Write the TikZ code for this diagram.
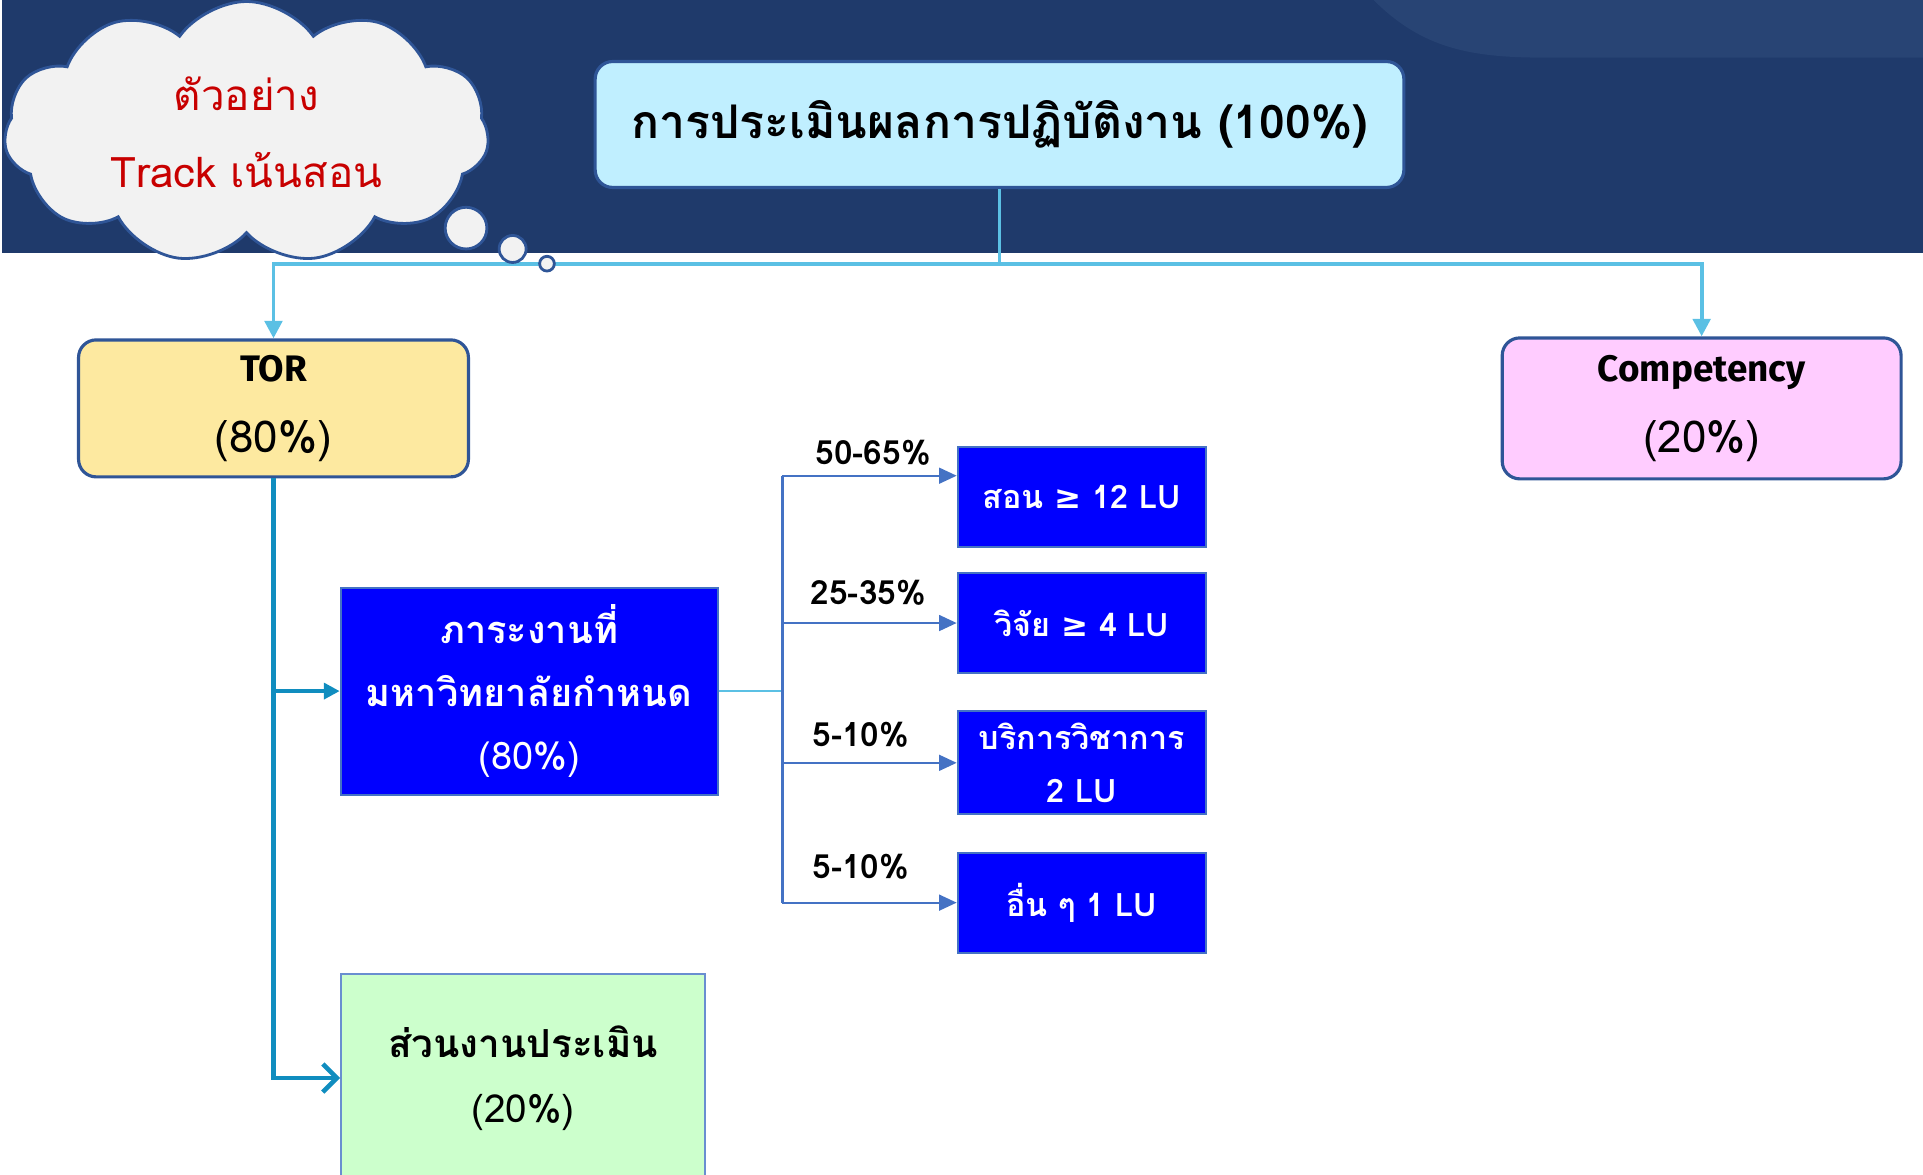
\documentclass[tikz,border=0pt]{standalone}
\usepackage{fontspec}
\setmainfont[Script=Thai]{Loma}
\newfontfamily\symfont{DejaVu Sans}
\newfontfamily\headfont{Fira Sans}
\usepackage{tikz}
\usetikzlibrary{arrows.meta}
\usetikzlibrary{calc,positioning,shapes.symbols}

\definecolor{bandblue}{RGB}{31,58,107}
\definecolor{bandlight}{RGB}{40,68,116}
\definecolor{cloudgray}{RGB}{242,242,242}
\definecolor{edgeblue}{RGB}{47,85,151}
\definecolor{skyline}{RGB}{91,192,228}
\definecolor{titlefill}{RGB}{192,239,255}
\definecolor{torfill}{RGB}{253,233,160}
\definecolor{compfill}{RGB}{255,204,255}
\definecolor{tealline}{RGB}{16,141,191}
\definecolor{midblue}{RGB}{68,114,196}
\definecolor{greenfill}{RGB}{204,255,204}
\definecolor{darkred}{RGB}{200,0,0}

\newcommand{\geqmark}{{\symfont ≥}}

\tikzset{
  roundbox/.style={draw=edgeblue, line width=0.9pt, rounded corners=5pt, align=center},
  bluebox/.style={draw=midblue, line width=0.6pt, fill=blue, text=white, align=center,
    font=\fontsize{9.2}{15}\selectfont\bfseries, minimum width=2.48cm, minimum height=1.0cm},
  pct/.style={font=\fontsize{9.5}{11}\selectfont\bfseries},
  skyconn/.style={skyline, line width=1.1pt},
  tealconn/.style={tealline, line width=1.3pt},
  branchline/.style={midblue, line width=0.6pt},
  puff/.style={draw=edgeblue, line width=0.8pt, fill=cloudgray}
}

\begin{document}
\begin{tikzpicture}[x=0.012264cm, y=-0.012264cm]
\useasboundingbox (0,0) rectangle (1568,958);

% header band
\fill[bandblue] (2,0) rectangle (1568,206);
\fill[bandlight] (1120,0) .. controls (1160,40) and (1200,47) .. (1260,47) -- (1568,47) -- (1568,0) -- cycle;

\node[roundbox, fill=titlefill, minimum width=8.09cm, minimum height=1.26cm,
  font=\fontsize{13.2}{16}\selectfont\bfseries] (title) at (815,101.5) {การประเมินผลการปฏิบัติงาน (100\%)};

\node[roundbox, fill=torfill, minimum width=3.9cm, minimum height=1.37cm,
  font=\fontsize{12.5}{20}\selectfont] (tor) at (223,333) {{\headfont\bfseries\fontsize{10.5}{12}\selectfont TOR}\\(80\%)};
\node[roundbox, fill=compfill, minimum width=3.99cm, minimum height=1.41cm,
  font=\fontsize{12.5}{20}\selectfont] (comp) at (1387.5,333) {{\headfont\bfseries\fontsize{10.5}{12}\selectfont Competency}\\(20\%)};

\node[bluebox, minimum width=3.77cm, minimum height=2.07cm, font=\fontsize{10.8}{18}\selectfont\bfseries]
  (load) at (431.5,563.5) {ภาระงานที่\\มหาวิทยาลัยกำหนด\\{\mdseries(80\%)}};
\node[draw=midblue!80, line width=0.6pt, fill=greenfill, minimum width=3.64cm, minimum height=2.09cm,
  align=center, font=\fontsize{11}{18.5}\selectfont\bfseries] (assess) at (426.5,879) {ส่วนงานประเมิน\\{\mdseries(20\%)}};

\node[bluebox] (teach) at (882,405) {สอน \geqmark{} 12 LU};
\node[bluebox] (research) at (882,508) {วิจัย \geqmark{} 4 LU};
\node[bluebox] (service) at (882,622) {บริการวิชาการ\\2 LU};
\node[bluebox] (other) at (882,736) {อื่น ๆ 1 LU};

\node[pct] (p1) at (712,369) {50-65\%};
\node[pct] (p2) at (708,483) {25-35\%};
\node[pct] (p3) at (702,599) {5-10\%};
\node[pct] (p4) at (702,707) {5-10\%};

% top split
\coordinate (split) at (815,215);
\draw[skyconn] (title.south) -- (split);
\draw[skyconn, -{Triangle[length=5pt,width=5pt]}] (split) -| (tor.north);
\draw[skyconn, -{Triangle[length=5pt,width=5pt]}] (split) -| (comp.north);

% TOR branch
\draw[tealconn, -{Straight Barb[length=4pt,width=8pt]}] (tor.south) |- (assess.west);
\draw[tealconn, -{Triangle[length=4.5pt,width=4.5pt]}] (tor.south |- load.west) -- (load.west);

% workload split
\coordinate (fork) at ($(load.east)+(52,0)$);
\coordinate (teachin) at ([yshift=0.21cm]teach.west);
\draw[skyline, line width=0.6pt] (load.east) -- (fork);
\draw[branchline] (fork |- teachin) -- (fork |- other.west);
\foreach \tgt in {teachin,research.west,service.west,other.west}
  \draw[branchline, -{Triangle[length=5pt,width=4.5pt]}] (fork |- \tgt) -- (\tgt);

% thought cloud
\node[cloud, cloud puffs=11, cloud puff arc=110, cloud ignores aspect, puff, minimum width=4.85cm, minimum height=2.62cm,
  align=center, text=darkred, font=\fontsize{12}{22}\selectfont] (bubble) at (201,108) {ตัวอย่าง\\Track เน้นสอน};
\foreach \bx/\by/\br in {380/186/17,418/203/11,446/215/6}
  \draw[puff] (\bx,\by) circle[radius=\br];
\end{tikzpicture}
\end{document}
